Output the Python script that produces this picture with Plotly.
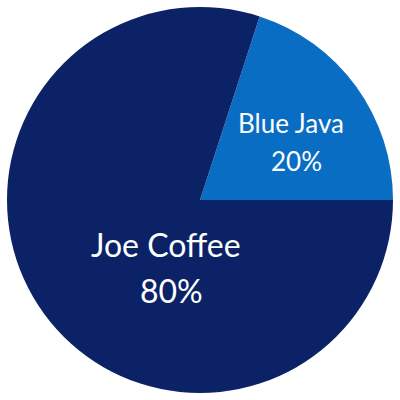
import plotly.graph_objects as go

# slice data
brands = ["Blue Java", "Joe Coffee"]
shares = [20, 80]
slice_colors = ["#0a6dc4", "#0b2366"]

fig = go.Figure(go.Pie(
    labels=brands,
    values=shares,
    marker=dict(colors=slice_colors, line=dict(width=0)),
    sort=False,
    direction="clockwise",
    rotation=18,
    textinfo="none",
    hoverinfo="skip",
    showlegend=False,
    domain=dict(x=[7 / 400, 393 / 400], y=[7 / 400, 393 / 400]),
))

# label positions in pixels (name line, percent line)
label_spots = {
    "Blue Java": dict(name=(291, 123), pct=(296, 161), size=26),
    "Joe Coffee": dict(name=(166, 244), pct=(171, 290), size=32),
}

for b, v in zip(brands, shares):
    spot = label_spots[b]
    for key, txt in (("name", b), ("pct", f"{v}%")):
        px_, py_ = spot[key]
        fig.add_annotation(
            x=px_ / 400, y=1 - py_ / 400, xref="paper", yref="paper",
            text=txt, showarrow=False, xanchor="center", yanchor="middle",
            font=dict(family="Lato", size=spot["size"], color="white"),
        )

fig.update_layout(
    width=400, height=400,
    margin=dict(l=0, r=0, t=0, b=0),
    paper_bgcolor="white",
    plot_bgcolor="white",
)

# drop the default page margin so the 400px figure fills the window
fig.write_html(
    "out.html",
    config={"displayModeBar": False},
    post_script="document.body.style.margin='0';",
)
